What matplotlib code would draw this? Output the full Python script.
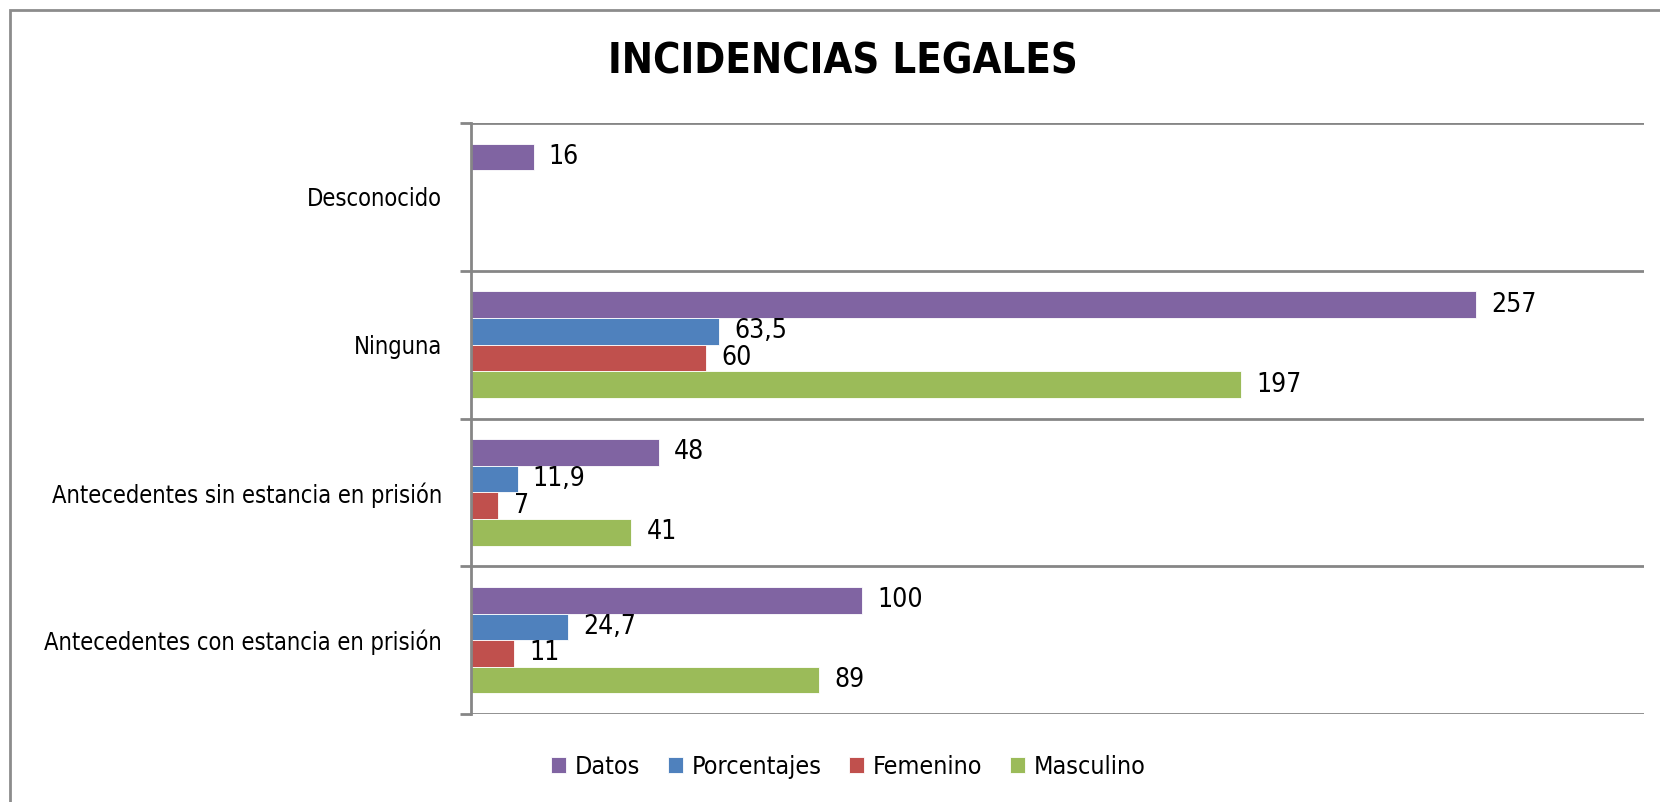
import numpy as np
import matplotlib
matplotlib.use('Agg')
import matplotlib.pyplot as plt
import matplotlib.font_manager as fm
from matplotlib.patches import Rectangle

# look for a narrow sans, the original looks condensed
nombres = {f.name for f in fm.fontManager.ttflist}
condensadas = {f.name for f in fm.fontManager.ttflist if f.stretch in ('condensed', 'semi-condensed', 500 - 125)}
if 'Liberation Sans Narrow' in nombres:
  plt.rcParams['font.family'] = ['Liberation Sans Narrow', 'DejaVu Sans']
elif 'DejaVu Sans Condensed' in nombres:
  plt.rcParams['font.family'] = ['DejaVu Sans Condensed', 'DejaVu Sans']
elif 'DejaVu Sans' in condensadas:
  plt.rcParams['font.family'] = ['DejaVu Sans']
  plt.rcParams['font.stretch'] = 'condensed'
else:
  plt.rcParams['font.family'] = ['Liberation Sans', 'DejaVu Sans']

categorias = ['Antecedentes con estancia en prisión',
              'Antecedentes sin estancia en prisión',
              'Ninguna',
              'Desconocido']
series = ['Datos', 'Porcentajes', 'Femenino', 'Masculino']
datos = [100, 48, 257, 16]
porcentajes = [24.7, 11.9, 63.5, np.nan]
femenino = [11, 7, 60, np.nan]
masculino = [89, 41, 197, np.nan]
colores = ['#8064A2', '#4F81BD', '#C0504D', '#9BBB59']

def fmt(v):
  if np.isnan(v):
    return ''
  if v == int(v):
    return '%d' % v
  return ('%.1f' % v).replace('.', ',')

fig = plt.figure(figsize=(16.6, 8.02), dpi=100)
ax = fig.add_axes([471/1660, 1-714/802, (1644-471)/1660, (714-123)/802])

y = np.arange(len(categorias))
w = 0.18
valores = [datos, porcentajes, femenino, masculino]
offsets = [1.5*w, 0.5*w, -0.5*w, -1.5*w]
for vals, off, col, nom in zip(valores, offsets, colores, series):
  vals = np.array(vals, dtype=float)
  bars = ax.barh(y + off, np.nan_to_num(vals), height=w, color=col, label=nom,
                 edgecolor='white', linewidth=0.6)
  ax.bar_label(bars, labels=[fmt(v) for v in vals], padding=11, fontsize=19)

ax.set_xlim(0, 300)
ax.set_ylim(-0.5, 3.5)
ax.set_xticks([])
ax.set_yticks(np.arange(-0.5, 4, 1))
ax.set_yticklabels([])
ax.set_yticks(y, minor=True)
ax.set_yticklabels(categorias, minor=True, fontsize=17)
ax.tick_params(axis='y', which='major', length=8, width=2, color='#868686')
ax.tick_params(axis='y', which='minor', length=0, pad=21)
ax.grid(axis='y', which='major', color='#868686', linewidth=2)
ax.set_axisbelow(True)
for s in ['top', 'right', 'bottom']:
  ax.spines[s].set_visible(False)
ax.spines['left'].set_color('#868686')
ax.spines['left'].set_linewidth(2)

fig.text(0.508, 0.923, 'INCIDENCIAS LEGALES', ha='center', va='center',
         fontsize=30, fontweight='bold')

fig.legend(loc='center', bbox_to_anchor=(848/1660, 1-767/802), ncol=4, frameon=False,
           fontsize=18, handlelength=0.6, handleheight=0.6, handletextpad=0.35,
           columnspacing=1.1)

fig.patches.append(Rectangle((10/1660, -0.1), 1.2, 1-10/802+0.1, transform=fig.transFigure,
                             fill=False, edgecolor='#8c8c8c', linewidth=2))

fig.savefig('out.png', dpi=100)
